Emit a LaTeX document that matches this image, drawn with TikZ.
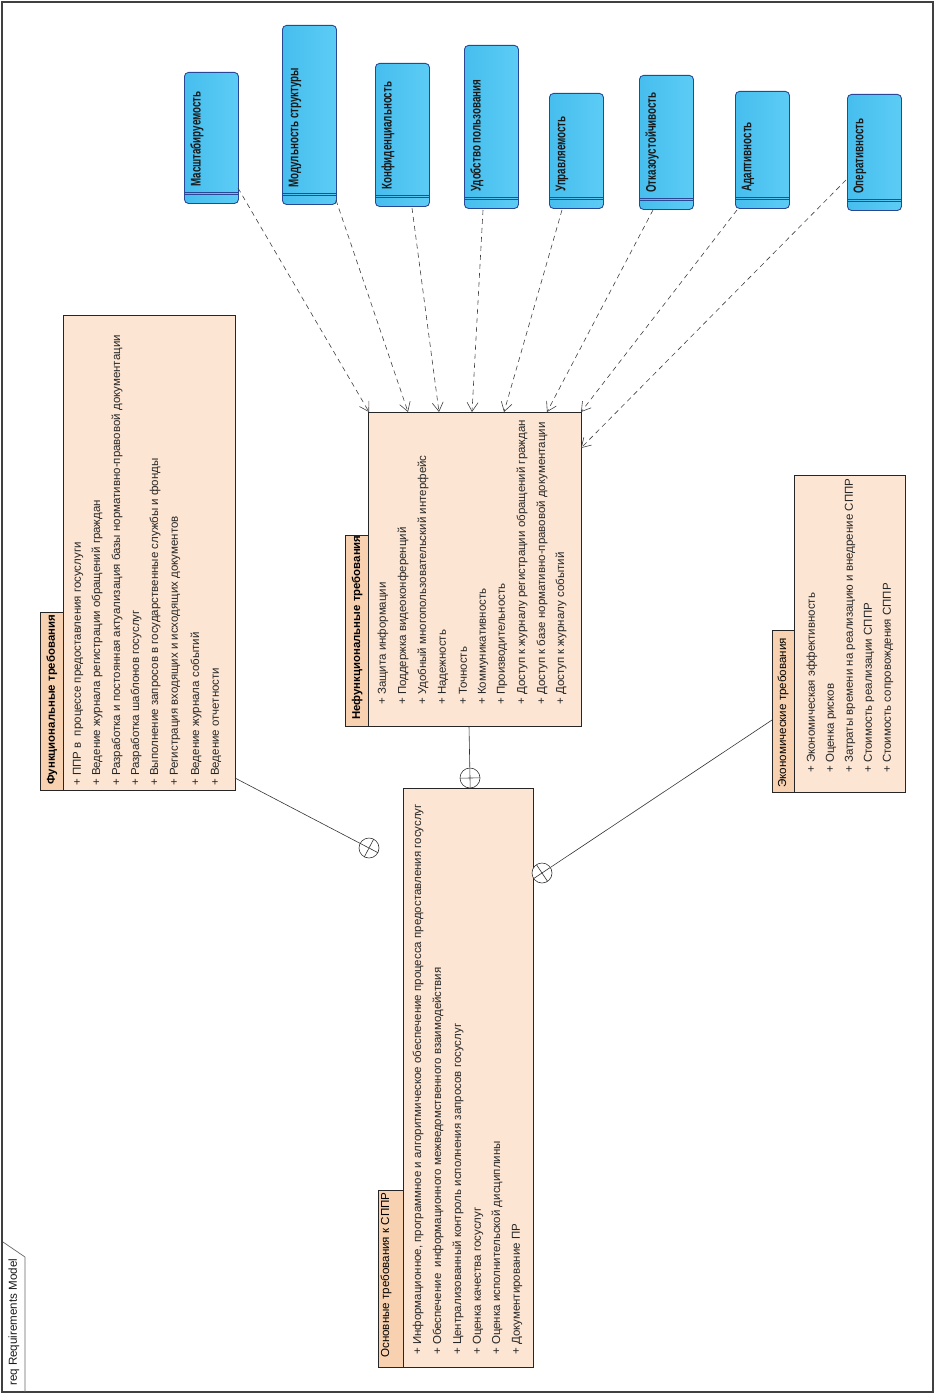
\documentclass[tikz,border=0pt]{standalone}
\usepackage{fontspec}
\setmainfont{Liberation Sans}
\newfontfamily\narrowfont[FakeStretch=0.7,BoldFont={Liberation Sans Bold}]{Liberation Sans}
\usetikzlibrary{arrows.meta,calc}
\definecolor{peach}{RGB}{252,229,211}
\definecolor{peachdark}{RGB}{248,210,176}
\definecolor{blueL}{RGB}{70,190,238}
\definecolor{blueR}{RGB}{92,204,245}
\definecolor{bluedark}{RGB}{40,72,150}
\tikzset{
  bodybox/.style={rectangle, draw=black!85, fill=peach, line width=0.9pt, anchor=north west, inner sep=0pt},
  headbox/.style={rectangle, draw=black!85, fill=peachdark, line width=0.9pt, anchor=north west, inner sep=0pt},
  bluebox/.style={rectangle, draw=bluedark, rounded corners=4pt, line width=0.9pt, left color=blueL, right color=blueR, anchor=north west, inner sep=0pt, minimum width=54pt},
  bluesep/.style={draw=bluedark, line width=0.8pt},
  itemtext/.style={rotate=90, anchor=west, inner sep=0pt, text=black!85, font=\fontsize{11.5}{13}\selectfont},
  titletext/.style={rotate=90, anchor=west, inner sep=0pt, text=black, font=\bfseries\fontsize{11.4}{13}\selectfont},
  titlereg/.style={rotate=90, anchor=west, inner sep=0pt, text=black, font=\fontsize{11.6}{13}\selectfont},
  bluetext/.style={rotate=90, anchor=west, inner sep=0pt, text=black!90, font=\narrowfont\bfseries\fontsize{14}{16}\selectfont},
  dep/.style={draw=black!75, line width=0.6pt, dash pattern=on 5pt off 4pt, -{Straight Barb[length=9pt,width=11pt]}},
  assoc/.style={draw=black!80, line width=0.6pt},
  nest/.style={circle, draw=black!80, fill=white, minimum size=20pt, inner sep=0pt, line width=0.6pt},
  nestcross/.style={draw=black!80, line width=0.6pt}
}
\begin{document}
\begin{tikzpicture}[x=1pt,y=-1pt]
\useasboundingbox (0,0) rectangle (935,1394);
% frame
\draw[black!75, line width=1.5pt] (2,2) rectangle (933,1392);
\coordinate (tabA) at (25,1392);
\coordinate (tabB) at (25,1257);
\coordinate (tabC) at (3,1242);
\draw[black!60, line width=0.7pt] (tabA) -- (tabB) -- (tabC);
\node[itemtext, text=black!90, font=\fontsize{11.6}{13}\selectfont] (frameLabel) at (14,1386) {req Requirements Model};

% ---------- Functional requirements ----------
\node[headbox, minimum width=23pt, minimum height=178pt] (funh) at (40,612) {};
\node[bodybox, minimum width=172pt, minimum height=475pt] (fun) at (63,315) {};
\node[titletext] (funt) at (52,785) {Функциональные требования};
\foreach \x/\t [count=\i] in {
  78/{+ ППР в~ процессе предоставления госуслуги},
  97/{+ Ведение журнала регистрации обращений граждан},
  117/{+ Разработка и постоянная актуализация базы нормативно-правовой документации},
  136/{+ Разработка шаблонов госуслуг},
  155/{+ Выполнение запросов в государственные службы и фонды},
  175/{+ Регистрация входящих и исходящих документов},
  196/{+ Ведение журнала событий},
  216/{+ Ведение отчетности}}
  \node[itemtext] (fi\i) at (\x,786) {\t};

% ---------- Non-functional requirements ----------
\node[headbox, minimum width=23pt, minimum height=191pt] (nfh) at (345,535) {};
\node[bodybox, minimum width=213pt, minimum height=314pt] (nf) at (368,412) {};
\node[titletext] (nft) at (357,720) {Нефункциональные требования};
\foreach \x/\t [count=\i] in {
  383/{+ Защита информации},
  403/{+ Поддержка видеоконференций},
  423/{+ Удобный многопользовательский интерфейс},
  443/{+ Надежность},
  463/{+ Точность},
  483/{+ Коммуникативность},
  502/{+ Производительность},
  522/{+ Доступ к журналу регистрации обращений граждан},
  542/{+ Доступ к базе нормативно-правовой документации},
  561/{+ Доступ к журналу событий}}
  \node[itemtext] (nfi\i) at (\x,705) {\t};

% ---------- Main requirements ----------
\node[headbox, minimum width=25pt, minimum height=177pt] (mainh) at (378,1190) {};
\node[bodybox, minimum width=130pt, minimum height=579pt] (main) at (403,788) {};
\node[titlereg] (maint) at (386,1358) {Основные требования к СППР};
\foreach \x/\t [count=\i] in {
  418/{+ Информационное, программное и алгоритмическое обеспечение процесса предоставления госуслуг},
  438/{+ Обеспечение~ информационного межведомственного взаимодействия},
  458/{+ Централизованный контроль исполнения запросов госуслуг},
  478/{+ Оценка качества госуслуг},
  497/{+ Оценка исполнительской дисциплины},
  517/{+ Документирование ПР}}
  \node[itemtext] (mi\i) at (\x,1355) {\t};

% ---------- Economic requirements ----------
\node[headbox, minimum width=22pt, minimum height=162pt] (ecoh) at (772,630) {};
\node[bodybox, minimum width=111pt, minimum height=317pt] (eco) at (794,475) {};
\node[titlereg] (ecot) at (783,788) {Экономические требования};
\foreach \x/\t [count=\i] in {
  812/{+ Экономическая эффективность},
  831/{+ Оценка рисков},
  850/{+ Затраты времени на реализацию и внедрение СППР},
  869/{+ Стоимость реализации СППР},
  888/{+ Стоимость сопровождения СППР}}
  \node[itemtext] (ei\i) at (\x,773) {\t};

% ---------- Blue quality boxes ----------
\foreach \n/\x/\top/\bot/\t in {
  1/184/72/203/{Масштабируемость},
  2/282/25/204/{Модульность структуры},
  3/375/63/206/{Конфиденциальность},
  4/464/45/208/{Удобство пользования},
  5/549/93/208/{Управляемость},
  6/639/75/209/{Отказоустойчивость},
  7/735/91/208/{Адаптивность},
  8/847/94/210/{Оперативность}} {
  \pgfmathsetmacro{\hh}{\bot-\top}
  \node[bluebox, minimum height=\hh pt] (b\n) at (\x,\top) {};
  \draw[bluesep] ($(b\n.south west)+(0,-12)$) -- ($(b\n.south east)+(0,-12)$);
  \draw[bluesep] ($(b\n.south west)+(0,-9.3)$) -- ($(b\n.south east)+(0,-9.3)$);
  \node[bluetext] (b\n t) at ($(b\n.south west)+(13,-17)$) {\t};
}

% ---------- dependency connectors ----------
\coordinate (o1) at (238,188); \coordinate (e1) at (369,412);
\coordinate (o2) at (336,200); \coordinate (e2) at (408,412);
\coordinate (o3) at (412,208); \coordinate (e3) at (439,412);
\coordinate (o4) at (483,210); \coordinate (e4) at (472,412);
\coordinate (o5) at (562,210); \coordinate (e5) at (504,412);
\coordinate (o6) at (653,210); \coordinate (e6) at (547,412);
\coordinate (o7) at (737,210); \coordinate (e7) at (581,412);
\coordinate (o8) at (846,180); \coordinate (e8) at (581,448);
\foreach \i in {1,...,8} \draw[dep] (o\i) -- (e\i);

% ---------- containment connectors ----------
\coordinate (funA) at (235,778);
\node[nest] (nestF) at (369,848) {};
\draw[assoc] (funA) -- (nestF);
\draw[nestcross] ($(nestF)!10pt!(funA)$) -- ($(nestF)!-10pt!(funA)$);
\draw[nestcross] ($(nestF)!10pt!90:(funA)$) -- ($(nestF)!-10pt!90:(funA)$);

\coordinate (nfA) at (469,726);
\node[nest] (nestN) at (470,778) {};
\draw[assoc] (nfA) -- (nestN);
\draw[nestcross] ($(nestN)!10pt!(nfA)$) -- ($(nestN)!-10pt!(nfA)$);
\draw[nestcross] ($(nestN)!10pt!90:(nfA)$) -- ($(nestN)!-10pt!90:(nfA)$);

\coordinate (ecoA) at (772,720);
\node[nest] (nestE) at (542,873) {};
\draw[assoc] (ecoA) -- (nestE);
\draw[nestcross] ($(nestE)!10pt!(ecoA)$) -- ($(nestE)!-10pt!(ecoA)$);
\draw[nestcross] ($(nestE)!10pt!90:(ecoA)$) -- ($(nestE)!-10pt!90:(ecoA)$);
\end{tikzpicture}
\end{document}
